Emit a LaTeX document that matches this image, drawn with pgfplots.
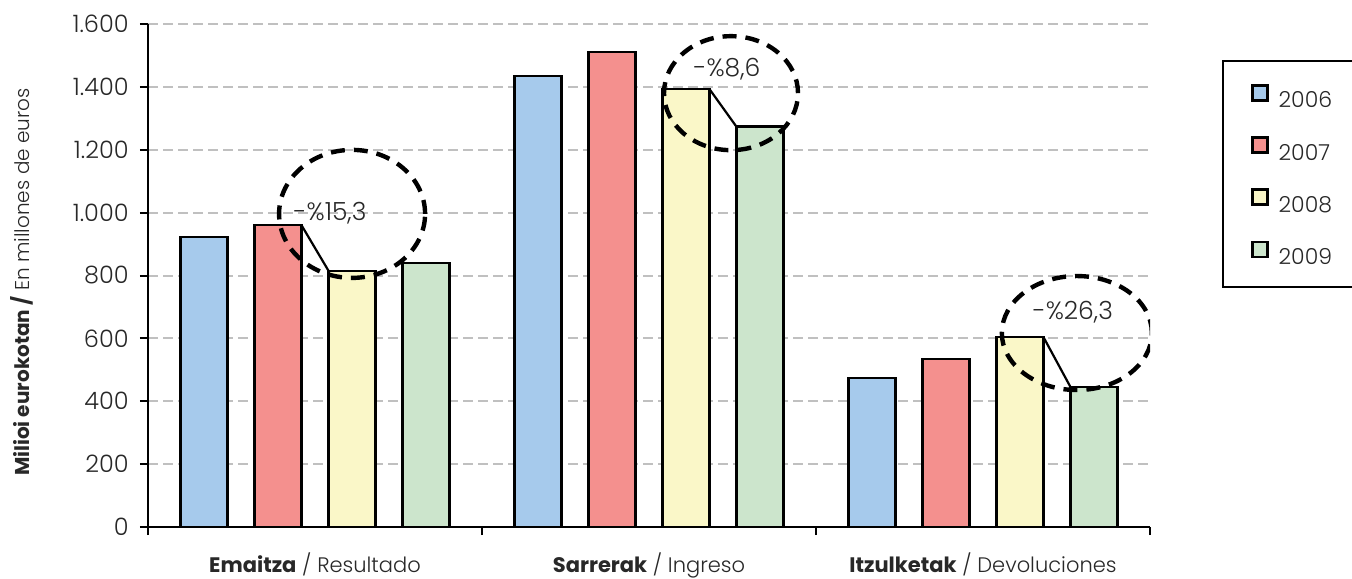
\documentclass[border=0pt]{standalone}
\usepackage{fontspec}
\setmainfont{Poppins}[UprightFont={* Light}, BoldFont={* Bold}]
\usepackage{pgfplots}
\pgfplotsset{compat=1.18}
\definecolor{cB}{RGB}{166,202,236}
\definecolor{cR}{RGB}{244,144,142}
\definecolor{cY}{RGB}{250,247,200}
\definecolor{cG}{RGB}{204,229,204}
\definecolor{gridgray}{RGB}{192,192,192}
\definecolor{txt}{RGB}{40,40,40}
\begin{document}
\fontsize{10.5}{12.6}\selectfont
\begin{tikzpicture}
\clip (0,0) rectangle (676pt,289pt);
\begin{axis}[
  at={(74pt,25.5pt)}, anchor=south west,
  width=501pt, height=251.5pt, scale only axis,
  xmin=-0.5, xmax=2.5, ymin=0, ymax=1600,
  axis lines*=left,
  axis line style={line width=1pt, black},
  ybar,
  bar width=0.14,
  ytick={0,200,...,1600},
  xtick={0,1,2},
  xticklabels={{\textbf{Emaitza} / Resultado},{\textbf{Sarrerak} / Ingreso},{\textbf{Itzulketak} / Devoluciones}},
  minor xtick={-0.5,0.5,1.5,2.5},
  major x tick style={draw=none},
  tick align=outside,
  major tick length=4pt, minor tick length=4pt,
  tick style={line width=1pt, black},
  xticklabel style={yshift=-5pt, text=txt, font=\fontsize{10.5}{12.6}\selectfont},
  yticklabel style={xshift=-2pt, text=txt, font=\fontsize{12}{14}\selectfont},
  /pgf/number format/.cd, 1000 sep={.}, assume math mode=true, /pgfplots/.cd,
  ymajorgrids,
  grid style={gridgray, line width=1pt, dash pattern=on 5pt off 2.5pt},
  ylabel={\textbf{Milioi eurokotan /} En millones de euros},
  ylabel style={at={(axis description cs:-0.1257,0.487)}, anchor=center, text=txt, font=\fontsize{10}{12}\selectfont},
  legend image code/.code={\draw[#1, line width=1.2pt] (0pt,0pt) rectangle (7.5pt,7.5pt);},
  legend style={at={(1.0719,0.9284)}, anchor=north west, draw=black, line width=1.2pt,
    inner xsep=14pt, inner ysep=11.5pt, row sep=14.2pt, column sep=5pt,
    font=\fontsize{11}{13}\selectfont,
    nodes={inner sep=0pt, text height=7.5pt, text depth=0pt, text=txt}},
  legend cell align=left,
]
\addplot[bar shift=0pt, fill=cB, draw=black, line width=1.3pt] coordinates {(-0.332,922) (0.668,1435) (1.668,474)};
\addplot[bar shift=0pt, fill=cR, draw=black, line width=1.3pt] coordinates {(-0.111,961) (0.889,1511) (1.889,534)};
\addplot[bar shift=0pt, fill=cY, draw=black, line width=1.3pt] coordinates {(0.111,814) (1.111,1393) (2.111,604)};
\addplot[bar shift=0pt, fill=cG, draw=black, line width=1.3pt] coordinates {(0.332,840) (1.332,1273) (2.332,445)};
\legend{2006,2007,2008,2009}
\addplot[sharp plot, black, line width=1.1pt, forget plot] coordinates {(-0.041,961) (0.041,814)};
\addplot[sharp plot, black, line width=1.1pt, forget plot] coordinates {(1.181,1393) (1.262,1273)};
\addplot[sharp plot, black, line width=1.1pt, forget plot] coordinates {(2.181,604) (2.262,445)};
\draw[black, line width=2.2pt, dash pattern=on 7pt off 4.5pt] (axis cs:0.111,996) ellipse [x radius=36.5pt, y radius=32pt];
\draw[black, line width=2.2pt, dash pattern=on 7pt off 4.5pt] (axis cs:1.2455,1380) ellipse [x radius=33.5pt, y radius=28.5pt];
\draw[black, line width=2.2pt, dash pattern=on 7pt off 4.5pt] (axis cs:2.281,617) ellipse [x radius=37.5pt, y radius=28.5pt];
\node[text=txt, font=\fontsize{12.5}{15}\selectfont] at (axis cs:0.045,999) {-\%15,3};
\node[text=txt, font=\fontsize{12.5}{15}\selectfont] at (axis cs:1.2335,1457) {-\%8,6};
\node[text=txt, font=\fontsize{12.5}{15}\selectfont] at (axis cs:2.269,684) {-\%26,3};
\end{axis}
\end{tikzpicture}
\end{document}
